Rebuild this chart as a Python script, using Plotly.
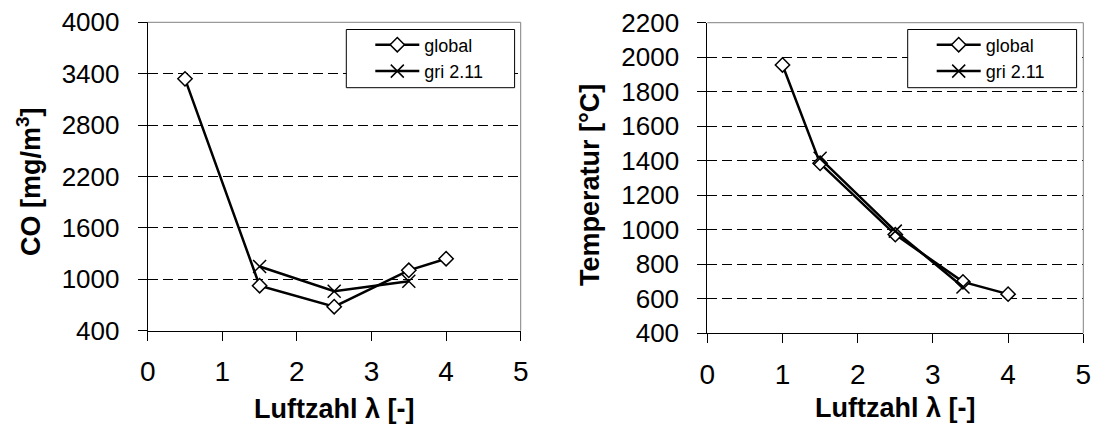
import plotly.graph_objects as go

# ---- data ----
lam_global_co = [0.5, 1.5, 2.5, 3.5, 4.0]
co_global = [3340, 925, 680, 1105, 1240]
lam_gri_co = [1.5, 2.5, 3.5]
co_gri = [1150, 860, 978]

lam_global_t = [1.0, 1.5, 2.5, 3.4, 4.0]
t_global = [1955, 1385, 972, 698, 627]
lam_gri_t = [1.5, 2.5, 3.4]
t_gri = [1414, 992, 668]

x_ticks = [0, 1, 2, 3, 4, 5]
co_ticks = [400, 1000, 1600, 2200, 2800, 3400, 4000]
t_ticks = [400, 600, 800, 1000, 1200, 1400, 1600, 1800, 2000, 2200]

series_names = ["global", "gri 2.11"]
x_title = "Luftzahl λ [-]"
y_title_left = "CO [mg/m<sup>3</sup>]"
y_title_right = "Temperatur [°C]"

W, H = 1094, 425
FONT = "Liberation Sans, Arial, sans-serif"

def px(x):
    return x / W

def py(y):
    return 1 - y / H

fig = go.Figure()

def add_pair(xg, yg, xr, yr, xa, ya, leg):
    fig.add_trace(go.Scatter(
        x=xg, y=yg, name=series_names[0], mode="lines+markers",
        line=dict(color="black", width=2.5),
        marker=dict(symbol="diamond", size=11, color="white",
                    line=dict(color="black", width=1.5)),
        xaxis=xa, yaxis=ya, legend=leg))
    fig.add_trace(go.Scatter(
        x=xr, y=yr, name=series_names[1], mode="lines+markers",
        line=dict(color="black", width=2.5),
        marker=dict(symbol="x-thin-open", size=13, color="black",
                    line=dict(color="black", width=1.5)),
        xaxis=xa, yaxis=ya, legend=leg))

add_pair(lam_global_co, co_global, lam_gri_co, co_gri, "x", "y", "legend")
add_pair(lam_global_t, t_global, lam_gri_t, t_gri, "x2", "y2", "legend2")

xaxis_common = dict(
    range=[0, 5], tickvals=x_ticks, ticks="outside", ticklen=9,
    tickcolor="black", showline=True, linecolor="black", linewidth=1,
    showgrid=False, zeroline=False, ticklabelstandoff=7, automargin=False,
    tickfont=dict(family=FONT, size=28, color="black"), fixedrange=True)
yaxis_common = dict(
    ticks="outside", ticklen=9, tickcolor="black", showline=True,
    linecolor="black", linewidth=1, showgrid=True, gridcolor="black",
    gridwidth=1, griddash="10px,5px", zeroline=False, ticklabelstandoff=13,
    automargin=False,
    tickfont=dict(family=FONT, size=26, color="black"), fixedrange=True)

L = (147.7, 520.7, 22.3, 330.7)
R = (707.3, 1083.3, 22.7, 333.3)

legend_style = dict(xanchor="left", yanchor="top", bgcolor="rgba(0,0,0,0)",
                    borderwidth=0, itemwidth=44,
                    font=dict(family=FONT, size=18, color="black"))

fig.update_layout(
    width=W, height=H, margin=dict(l=0, r=0, t=0, b=0, autoexpand=False),
    paper_bgcolor="white", plot_bgcolor="white",
    font=dict(family=FONT, color="black"),
    xaxis=dict(domain=[px(L[0]), px(L[1])], anchor="y", **xaxis_common),
    yaxis=dict(domain=[py(L[3]), py(L[2])], anchor="x", range=[400, 4000],
               tickvals=co_ticks, **yaxis_common),
    xaxis2=dict(domain=[px(R[0]), px(R[1])], anchor="y2", **xaxis_common),
    yaxis2=dict(domain=[py(R[3]), py(R[2])], anchor="x2", range=[400, 2200],
                tickvals=t_ticks, **yaxis_common),
    legend=dict(x=px(346.3 + 24), y=py(26.5), **legend_style),
    legend2=dict(x=px(907.7 + 24), y=py(26.5), **legend_style),
    showlegend=True,
)

shapes = []
for xr, yr in [("x", "y"), ("x2", "y2")]:
    # gray top and right frame
    shapes.append(dict(type="line", xref=xr + " domain", yref=yr + " domain",
                       x0=0, x1=1, y0=1, y1=1, line=dict(color="#808080", width=1),
                       layer="above"))
    shapes.append(dict(type="line", xref=xr + " domain", yref=yr + " domain",
                       x0=1, x1=1, y0=0, y1=1, line=dict(color="#808080", width=1),
                       layer="above"))
# legend boxes
for bx0, bx1 in [(346.3, 514.6), (907.7, 1076.6)]:
    shapes.append(dict(type="rect", xref="paper", yref="paper",
                       x0=px(bx0), x1=px(bx1), y0=py(87.7), y1=py(29.5),
                       line=dict(color="black", width=1), fillcolor="white",
                       layer="above"))
fig.update_layout(shapes=shapes)

title_font = dict(family=FONT, size=27, color="black", weight="bold")
ann = [
    dict(text=x_title, x=px((L[0] + L[1]) / 2), y=py(409), xref="paper", yref="paper",
         showarrow=False, font=title_font, xanchor="center", yanchor="middle"),
    dict(text=x_title, x=px((R[0] + R[1]) / 2), y=py(408), xref="paper", yref="paper",
         showarrow=False, font=title_font, xanchor="center", yanchor="middle"),
    dict(text=y_title_left, x=px(29), y=py(182), xref="paper", yref="paper",
         showarrow=False, font=title_font, textangle=-90,
         xanchor="center", yanchor="middle"),
    dict(text=y_title_right, x=px(590), y=py(185), xref="paper", yref="paper",
         showarrow=False, font=title_font, textangle=-90,
         xanchor="center", yanchor="middle"),
]
fig.update_layout(annotations=ann)

fig.write_html("out.html")
